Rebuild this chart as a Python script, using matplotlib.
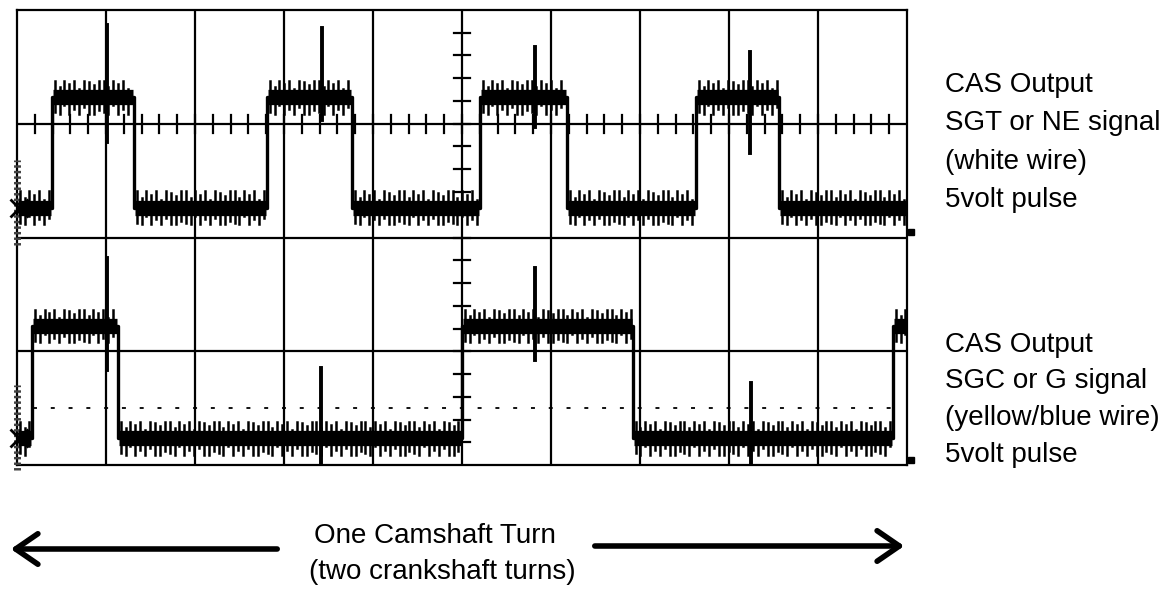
import matplotlib
matplotlib.use("Agg")
import matplotlib.pyplot as plt
import numpy as np

plt.rcParams['font.family'] = ['Liberation Sans', 'DejaVu Sans']

# scope screen: 10 x 4 divisions
n_xdiv = 10
n_ydiv = 4

# channel 1 (SGT / NE), levels in divisions
ch1_low = 2.26
ch1_high = 3.235
ch1_edges = [0.393, 1.315, 2.809, 3.764, 5.202, 6.18, 7.629, 8.562]
ch1_start_high = False
# spikes: x, top, bottom
ch1_spikes = [(1.011, 3.87, 2.84), (3.427, 3.84, 3.03), (5.82, 3.675, 2.97), (8.236, 3.63, 2.74)]

# channel 2 (SGC / G)
ch2_low = 0.237
ch2_high = 1.222
ch2_edges = [0.169, 1.135, 5.0, 6.92, 9.843]
ch2_start_high = False
ch2_spikes = [(1.011, 1.82, 0.835), (3.416, 0.853, 0.0), (5.82, 1.73, 0.92), (8.247, 0.72, 0.0)]
trigger_level = 0.50

# ripple pattern on the flat parts (fraction of max amplitude)
ripple_up = [1.0, 0.6, 1.0, 0.8, 1.0, 0.5, 1.0, 0.9, 0.7, 1.0]
ripple_dn = [0.9, 1.0, 0.5, 1.0, 0.7, 1.0, 0.6, 1.0, 1.0, 0.8]
ripple_amp = 0.145
ripple_step = 0.055

ch1_text = ["CAS Output", "SGT or NE signal", "(white wire)", "5volt pulse"]
ch2_text = ["CAS Output", "SGC or G signal", "(yellow/blue wire)", "5volt pulse"]
bottom_text = ["One Camshaft Turn", "(two crankshaft turns)"]

W, H = 1167, 590


def square_wave(edges, lo, hi, start_high):
    lv = hi if start_high else lo
    xs, ys = [0], [lv]
    for e in edges:
        nxt = lo if lv == hi else hi
        xs += [e, e]
        ys += [lv, nxt]
        lv = nxt
    xs.append(n_xdiv)
    ys.append(lv)
    return xs, ys


def draw_channel(ax, edges, lo, hi, start_high, spikes):
    xs, ys = square_wave(edges, lo, hi, start_high)
    ax.plot(xs, ys, color='black', lw=2.4, zorder=5)
    bounds = [0] + edges + [n_xdiv]
    lv = hi if start_high else lo
    for a, b in zip(bounds[:-1], bounds[1:]):
        # thick core of the noisy trace
        ax.plot([a + 0.01, b - 0.01], [lv, lv], color='black', lw=11,
                solid_capstyle='butt', zorder=5)
        pos = np.arange(a + 0.03, b - 0.015, ripple_step)
        for i, p in enumerate(pos):
            up = ripple_up[i % len(ripple_up)] * ripple_amp
            dn = ripple_dn[i % len(ripple_dn)] * ripple_amp
            ax.plot([p, p], [lv - dn, lv + up], color='black', lw=1.8, zorder=5)
        lv = lo if lv == hi else hi
    for x, top, bot in spikes:
        ax.plot([x, x], [bot, top], color='black', lw=2.8, zorder=6)


fig = plt.figure(figsize=(W / 100, H / 100), dpi=100)
ax = fig.add_axes([17 / W, 125 / H, 890 / W, 455 / H])
ax.set_xlim(0, n_xdiv)
ax.set_ylim(0, n_ydiv)
ax.set_xticks([])
ax.set_yticks([])
for s in ax.spines.values():
    s.set_linewidth(1.6)

# graticule
for gx in range(1, n_xdiv):
    ax.axvline(gx, color='black', lw=1.6, zorder=2)
for gy in range(1, n_ydiv):
    ax.axhline(gy, color='black', lw=1.6, zorder=2)

# minor ticks on the centre vertical and on the upper horizontal line
for t in np.arange(0.2, n_ydiv, 0.2):
    ax.plot([4.91, 5.09], [t, t], color='black', lw=1.6, zorder=3)
for t in np.arange(0.2, n_xdiv, 0.2):
    ax.plot([t, t], [2.92, 3.08], color='black', lw=1.6, zorder=3)

# trigger level dots
ax.plot([0.18, 9.84], [trigger_level, trigger_level], color='black', lw=1.3,
        ls=(0, (2.2, 7.65)), zorder=3)

draw_channel(ax, ch1_edges, ch1_low, ch1_high, ch1_start_high, ch1_spikes)
draw_channel(ax, ch2_edges, ch2_low, ch2_high, ch2_start_high, ch2_spikes)

# left ground markers and hatched ruler
for lo, y0, y1 in [(ch1_low, 1.93, 2.68), (ch2_low, -0.04, 0.70)]:
    ax.plot([0, 0], [y0, y1], color='0.25', lw=5, ls=(0, (0.35, 0.45)),
            clip_on=False, zorder=4)
    ax.plot([0.02], [lo], marker='x', ms=13, mew=2, color='black', clip_on=False, zorder=7)
    ax.plot([0.06], [lo], marker='>', ms=7, mfc='none', mec='black', mew=1.5,
            clip_on=False, zorder=7)

# small squares on the right edge
ax.plot([10.04, 10.04], [2.05, 0.045], ls='none', marker='s', ms=4.5,
        color='black', clip_on=False)

# labels on the right
for i, s in enumerate(ch1_text):
    fig.text(945 / W, 1 - (92 + i * 38.5) / H, s, fontsize=20, va='baseline', ha='left')
for i, s in enumerate(ch2_text):
    fig.text(945 / W, 1 - (352 + i * 36.5) / H, s, fontsize=20, va='baseline', ha='left')

fig.text(435 / W, 1 - 543 / H, bottom_text[0], fontsize=20, va='baseline', ha='center')
fig.text(442 / W, 1 - 579 / H, bottom_text[1], fontsize=20, va='baseline', ha='center')

# arrows
fig.add_artist(matplotlib.patches.FancyArrowPatch(
    (280 / W, 1 - 549 / H), (8 / W, 1 - 549 / H), transform=fig.transFigure,
    arrowstyle='->,head_length=0.8,head_width=0.55', lw=4, color='black',
    mutation_scale=20))
fig.add_artist(matplotlib.patches.FancyArrowPatch(
    (592 / W, 1 - 546 / H), (907 / W, 1 - 546 / H), transform=fig.transFigure,
    arrowstyle='->,head_length=0.8,head_width=0.55', lw=4, color='black',
    mutation_scale=20))

fig.savefig("out.png", dpi=100)
